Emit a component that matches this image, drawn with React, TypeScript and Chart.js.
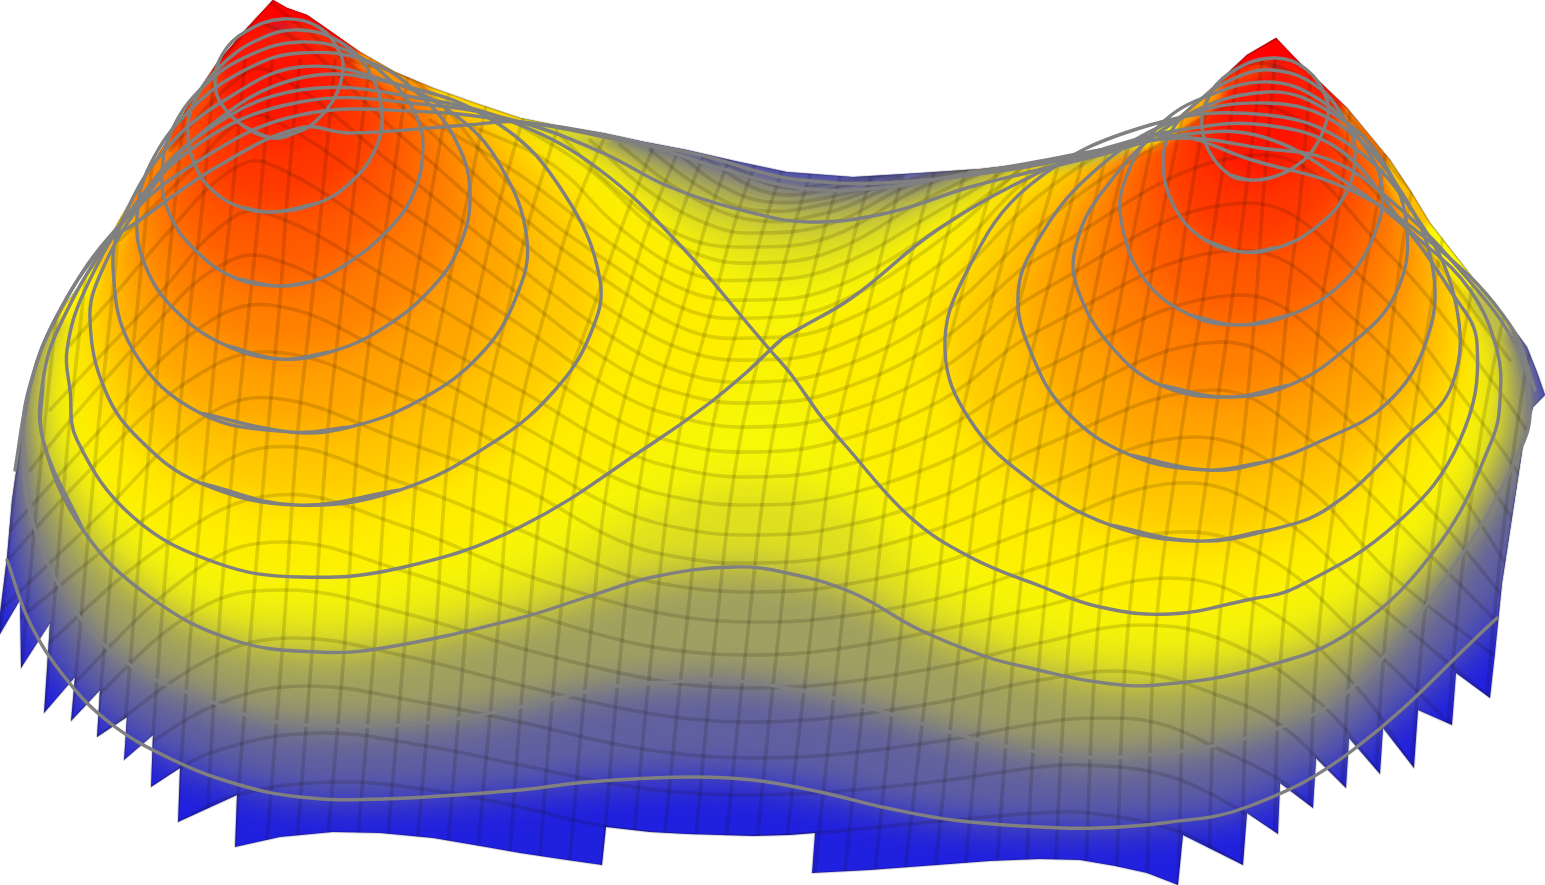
import React, { useEffect, useRef } from "react";
import { Chart, registerables } from "chart.js";

Chart.register(...registerables);

// ---- outline of the surface (x, y pairs)
const outline = [273,0,287,8,307,15,333,33,360,52,395,72,433,88,475,103,520,118,560,126,603,133,645,142,687,150,735,161,787,172,853,177,920,173,980,169,1040,162,1090,153,1130,142,1155,131,1177,118,1197,102,1217,83,1247,55,1276,38,1297,60,1322,84,1347,108,1390,160,1410,190,1430,223,1455,255,1480,287,1505,317,1527,347,1537,372,1545,395,1533,407,1523,445,1502,583,1495,653,1490,698,1456,673,1452,725,1418,710,1414,768,1383,728,1380,774,1349,738,1346,788,1316,758,1313,808,1280,783,1278,834,1247,813,1243,865,1183,835,1178,885,1147,873,1115,866,1080,860,1040,859,990,861,937,865,870,870,812,873,815,833,790,835,753,836,687,834,650,832,606,827,602,865,560,859,520,853,480,846,433,838,380,833,333,832,280,837,235,847,237,795,178,822,180,768,151,787,153,735,124,760,127,717,97,737,100,690,71,721,75,677,44,713,50,623,21,668,20,600,0,634,0,613,7,557,12,500,20,445,28,390,43,343,65,305,93,267,127,207,167,140,190,103,217,63,247,28];

// ---- iso-height contours
const level1Left = [273,138,245,127,222,105,215,83,222,55,245,32,283,19,320,28,340,53,343,70,335,97,315,122,295,133];
const level2Left = [273,212,240,207,212,190,195,165,188,133,195,100,225,62,262,38,300,30,340,42,368,70,382,113,375,150,350,183,318,203];
const level3Left = [277,286,235,278,195,250,170,215,162,177,172,130,205,85,250,55,300,42,350,52,395,85,418,120,423,147,415,190,390,228,345,265,310,282];
const level4Left = [280,359,225,345,175,310,145,265,137,217,150,165,190,110,245,70,300,53,370,62,425,100,458,145,470,193,460,245,430,290,380,330,330,352];
const level5Left = [290,432,200,413,133,350,113,267,125,215,165,150,225,100,300,67,390,82,455,115,500,165,527,240,515,300,480,355,420,400,350,427];
const level6Left = [296,505,200,483,140,440,105,390,90,320,100,275,140,205,205,130,300,78,400,85,500,125,565,195,600,280,590,335,555,390,497,440,400,490];
const level1Right = [1250,180,1230,175,1210,153,1202,127,1207,100,1230,73,1273,58,1307,70,1327,100,1327,120,1313,150,1293,168,1270,178];
const level2Right = [1243,252,1205,240,1175,208,1163,163,1172,130,1200,100,1235,78,1272,70,1315,85,1345,120,1355,153,1345,195,1315,228,1280,247];
const level3Right = [1238,325,1190,315,1145,280,1122,225,1125,180,1160,125,1210,95,1270,82,1320,100,1360,140,1382,187,1372,240,1340,285,1290,315];
const level4Right = [1227,397,1160,385,1110,345,1078,290,1075,250,1100,195,1170,125,1267,92,1335,115,1385,165,1407,230,1395,295,1350,345,1290,385];
const level5Right = [1207,470,1130,455,1065,410,1030,350,1018,295,1035,245,1090,175,1175,120,1267,103,1340,125,1400,190,1433,270,1425,345,1385,405,1323,440,1265,462];
const level6Right = [1195,541,1110,525,1030,480,970,420,945,350,965,275,1030,185,1150,125,1267,115,1350,145,1415,215,1455,300,1452,385,1403,440,1330,507,1270,530];
const level7 = [770,350,747,372,707,405,653,443,520,527,400,568,300,577,217,563,133,517,77,440,70,390,67,350,85,290,135,205,200,135,300,90,430,100,520,125,600,170,680,245,753,330,770,350,790,373,820,415,845,445,910,517,970,557,1040,586,1100,607,1170,614,1247,600,1297,587,1397,523,1460,440,1477,343,1450,290,1400,220,1340,150,1265,125,1180,130,1100,150,1040,172,937,230,853,297,797,330,783,338];
const level8 = [43,440,43,380,60,325,110,240,190,150,300,102,430,105,520,122,603,153,670,187,753,213,810,222,887,213,970,187,1030,172,1100,155,1180,135,1263,137,1350,185,1420,240,1470,290,1497,350,1500,400,1492,440,1440,543,1353,630,1263,667,1157,685,1097,682,1030,668,987,657,920,630,853,593,787,573,733,567,653,577,587,597,520,618,383,648,317,652,233,640,150,597,83,530];
const level9 = [23,440,33,523,77,613,133,667,200,697,267,720,350,726,433,722,520,707,603,688,670,682,727,680,787,688,853,703,920,723,987,742,1040,752,1123,757,1263,733,1353,687,1463,553,1520,450,1530,410,1518,350,1460,270,1390,200,1330,160,1260,148,1180,138,1100,150,1030,163,960,175,880,188,800,188,720,168,640,143,560,127,520,122,430,112,300,115,200,160,120,225,60,310,30,385];
const level10Front = [7,560,30,623,67,680,110,723,167,757,233,783,300,797,383,799,520,790,587,782,687,777,753,780,820,792,887,808,953,820,1040,827,1097,828,1163,823,1247,807,1353,750,1497,618];
const level10Back = [15,470,28,395,50,330,100,250,140,220,220,165,300,128,350,133,467,125,520,122,620,140,700,155,760,172,800,180,880,183,1000,171,1100,152,1170,135,1252,160,1350,190,1440,250,1510,325,1535,390];
const level10RightClosure = [1540,540,1560,450];

// ---- invisible in-between height, only used for colour: the flat yellow round the saddle
const yellowPlateau = [300,615,180,590,100,510,55,400,85,290,135,205,200,135,300,92,430,102,520,125,610,178,680,232,760,268,830,272,900,245,1000,192,1100,152,1180,132,1265,128,1400,228,1470,310,1490,380,1470,480,1350,600,1160,650,950,600,850,510,740,482,650,510,520,575,420,605];

// ---- the thin visible strip along the upper rim, from peak to valley
const rimPatches = [
  [273,-5,210,55,220,75,280,15],[210,55,160,135,172,150,220,75],[160,135,120,200,135,215,172,150],[120,200,85,262,100,272,135,215],[85,262,55,310,70,322,100,272],
  [280,-5,365,45,355,62,285,20],[365,45,437,80,430,98,355,62],[437,80,525,110,520,128,430,98],[525,110,610,125,605,140,520,128],
  [1040,155,1130,133,1135,150,1045,170],[1130,133,1172,110,1183,127,1135,150],[1172,110,1212,75,1225,90,1183,127],[1212,75,1245,47,1276,30,1275,60,1225,90],
  [1276,30,1350,100,1338,117,1275,60],[1350,100,1395,155,1382,170,1338,117],[1395,155,1437,218,1422,232,1382,170],[1437,218,1487,282,1472,295,1422,232],[1487,282,1515,322,1500,335,1472,295],
];
const rimPatchColors = [
  "rgb(255,20,0)","rgb(255,70,0)","rgb(255,130,0)","rgb(255,190,0)","rgb(255,240,0)",
  "rgb(255,40,0)","rgb(255,150,0)","rgb(255,215,0)","rgb(215,215,40)",
  "rgb(190,190,70)","rgb(245,245,10)","rgb(255,170,0)","rgb(255,60,0)",
  "rgb(255,30,0)","rgb(255,120,0)","rgb(255,190,0)","rgb(255,250,0)","rgb(190,190,70)",
];

// ---- the red tips above the innermost contour
const capLeft = [273,-6,312,8,350,48,320,30,283,22,245,34,222,58,238,26];
const capRight = [1276,32,1302,58,1332,104,1307,72,1273,60,1232,74,1206,100,1245,52];

// ---- colours of the height bands, outer to inner
const baseBandColor = "rgb(32,32,223)";
const band10Color = "rgb(96,96,160)";
const band9Color = "rgb(160,160,96)";
const band8Color = "rgb(223,223,32)";
const plateauColor = "rgb(247,247,8)";
const band7Color = "rgb(255,237,0)";
const band6Color = "rgb(255,200,0)";
const band5Color = "rgb(255,164,0)";
const band4Color = "rgb(255,127,0)";
const band3Color = "rgb(255,91,0)";
const band2Color = "rgb(255,55,0)";
const band1Color = "rgb(255,18,0)";
const capColor = "rgb(255,0,0)";

// ---- mesh: lines running left to right, front to back
const meshRows = [
  [178,822,237,795,333,782,430,790,520,807,603,826,680,835,753,836,815,833,930,822,1040,813,1090,813,1180,832,1243,865],
  [151,787,213,752,317,733,420,745,520,765,620,785,690,793,753,795,830,792,940,781,1040,767,1083,765,1157,773,1213,795,1278,834],
  [124,760,220,703,307,686,420,702,520,722,620,745,690,755,753,758,830,755,940,741,1040,723,1097,718,1157,723,1217,748,1280,780,1313,808],
  [97,737,213,657,293,638,400,655,520,685,620,708,690,719,753,722,830,718,940,702,1040,680,1133,672,1223,697,1283,727,1346,788],
  [71,721,197,610,287,590,400,612,520,648,620,673,690,685,753,688,830,684,940,667,1040,643,1140,625,1230,643,1320,703,1380,774],
  [44,713,200,567,287,542,400,570,520,610,620,640,690,652,753,655,830,650,940,630,1040,607,1170,578,1263,607,1353,683,1414,768],
  [21,668,167,543,277,495,400,525,520,573,620,604,690,618,753,622,830,618,940,598,1040,567,1177,532,1267,557,1360,637,1452,725],
  [0,634,167,503,270,447,400,482,520,530,620,573,690,588,753,592,830,587,940,563,1040,527,1178,483,1273,513,1370,597,1490,698],
  [-10,620,100,515,200,420,273,398,400,440,520,487,620,541,690,559,753,563,830,557,940,528,1040,487,1193,437,1297,480,1397,580,1500,660],
  [-10,580,90,470,190,380,273,352,400,395,520,455,620,510,690,530,753,535,830,529,940,497,1040,447,1213,390,1310,440,1420,545,1510,635],
  [10,530,100,430,190,335,270,305,400,360,520,425,620,480,690,500,753,505,830,498,940,463,1040,410,1218,342,1320,395,1435,515,1510,605],
  [30,470,73,417,153,327,213,270,267,257,400,325,520,390,620,449,690,471,753,477,830,469,940,431,1040,370,1237,295,1340,355,1450,480,1510,570],
  [50,410,90,367,160,293,220,227,263,212,400,285,520,358,620,421,690,446,753,452,830,443,940,401,1040,330,1240,250,1355,320,1465,450,1520,530],
  [70,345,110,300,170,230,227,173,267,163,400,245,520,325,620,394,690,420,753,427,830,417,940,370,1040,292,1247,203,1370,285,1480,420,1530,490],
  [120,240,190,170,235,125,267,117,400,205,520,295,620,368,690,396,753,403,830,393,940,341,1040,257,1262,155,1385,250,1495,385,1540,450],
  [170,150,230,85,267,70,400,170,520,268,620,342,690,375,753,382,830,371,940,315,1040,225,1150,150,1265,105,1400,220,1510,360],
  [215,65,267,25,400,135,520,240,620,316,690,352,753,360,830,349,940,289,1040,195,1150,125,1272,65,1415,195,1525,340],
  [267,0,400,105,520,215,620,290,690,331,753,338,830,327,940,264,1040,170,1276,38],
  [350,60,420,85,520,195,620,270,690,311,753,318,830,306,940,240,1040,150],
  [430,120,520,175,620,250,690,292,753,300,830,289,940,228,1040,155],
  [470,125,553,165,620,228,690,273,753,280,830,269,940,210,1030,155],
  [520,125,590,170,650,225,700,255,753,263,830,252,930,197,1020,155],
  [560,135,620,193,687,238,753,247,830,237,920,188,1000,158],
  [590,140,650,192,710,225,753,233,830,224,910,185,980,165],
  [620,145,680,190,753,220,830,212,900,183,960,167],
  [650,150,700,187,753,210,830,203,900,178],
  [680,155,720,185,770,202,840,195,900,175],
  [700,155,770,193,840,187,890,175],
  [720,160,780,187,840,182,880,175],
];

// ---- mesh: lines running front to back, x read at these heights
const columnHeights = [890,640,440,300,200,60];
const meshColumns = [
  [-23,0,20,40,60,90],[1,24,43,58,68,90],[28,51,68,83,93,115],[56,79,97,112,122,140],[83,105,123,138,148,165],
  [112,132,150,165,175,190],[142,160,177,191,203,215],[172,190,207,221,232,245],[203,218,235,250,260,272],[231,250,267,280,287,300],
  [263,283,297,312,322,335],[293,313,327,342,353,370],[323,345,358,375,390,410],[353,375,390,412,430,455],[383,405,420,445,467,495],
  [413,435,450,477,500,540],[444,465,480,510,535,580],[474,497,515,548,578,640],[507,527,552,596,632,690],[537,558,583,625,658,720],
  [567,590,615,655,686,745],[600,622,647,685,714,770],[629,653,678,714,742,795],[659,685,710,745,772,825],[691,715,740,775,802,850],
  [721,747,772,806,833,880],[752,778,803,838,864,910],[781,810,835,870,896,940],[813,840,865,900,926,970],[843,870,895,930,957,1000],
  [873,900,925,960,988,1035],[903,932,957,992,1020,1060],[933,960,985,1020,1048,1090],[963,988,1013,1045,1072,1110],[995,1015,1040,1070,1095,1130],
  [1025,1041,1066,1093,1115,1150],[1054,1069,1094,1120,1140,1170],[1085,1097,1122,1147,1165,1195],[1116,1127,1152,1175,1190,1215],[1147,1155,1180,1203,1218,1240],
  [1178,1187,1212,1232,1245,1262],[1208,1218,1243,1256,1263,1275],[1241,1250,1275,1288,1300,1312],[1273,1282,1307,1322,1340,1355],[1306,1318,1343,1360,1378,1400],
  [1337,1352,1377,1395,1410,1440],[1370,1385,1410,1432,1450,1480],[1403,1422,1447,1470,1490,1520],[1438,1455,1480,1507,1530,1560],[1473,1492,1515,1540,1565,1600],
];

const pts = (flat: number[]) => {
  const out: { x: number; y: number }[] = [];
  for (let i = 0; i < flat.length; i += 2) out.push({ x: flat[i], y: flat[i + 1] });
  return out;
};
// Repeats a point on either side of the seam, so the spline has no kink where a loop closes.
const loop = (flat: number[]) => {
  const n = flat.length;
  return pts([flat[n - 2], flat[n - 1], ...flat, flat[0], flat[1], flat[2], flat[3]]);
};
const closedSharp = (flat: number[]) => pts([...flat, flat[0], flat[1]]);
const reversedPairs = (flat: number[]) => {
  const out: number[] = [];
  for (let i = flat.length - 2; i >= 0; i -= 2) out.push(flat[i], flat[i + 1]);
  return out;
};

const surfacePlugin = {
  id: "surface",
  pathOf(chart: any, index: number, ctx: CanvasRenderingContext2D) {
    const line = chart.getDatasetMeta(index).dataset;
    line.updateControlPoints(chart.chartArea, "x");
    ctx.beginPath();
    line.path(ctx);
    ctx.closePath();
  },
  beforeDatasetsDraw(chart: any) {
    const ctx: CanvasRenderingContext2D = chart.ctx;
    const outlineIndex = chart.data.datasets.findIndex((d: any) => d.role === "outline");
    ctx.save();
    this.pathOf(chart, outlineIndex, ctx);
    ctx.fillStyle = baseBandColor;
    ctx.fill();
    ctx.clip();
    chart.data.datasets.forEach((d: any, i: number) => {
      if (d.role !== "band") return;
      ctx.filter = `blur(${d.blur}px)`;
      ctx.fillStyle = d.bandColor;
      this.pathOf(chart, i, ctx);
      ctx.fill();
    });
    ctx.filter = "none";
    ctx.restore();
  },
  beforeDatasetDraw(chart: any, args: any) {
    const d = chart.data.datasets[args.index];
    if (d.role !== "mesh") return;
    const ctx: CanvasRenderingContext2D = chart.ctx;
    const outlineIndex = chart.data.datasets.findIndex((e: any) => e.role === "outline");
    ctx.save();
    this.pathOf(chart, outlineIndex, ctx);
    ctx.clip();
  },
  afterDatasetDraw(chart: any, args: any) {
    const d = chart.data.datasets[args.index];
    if (d.role === "mesh") chart.ctx.restore();
  },
};

export default function App() {
  const ref = useRef<HTMLCanvasElement>(null);
  useEffect(() => {
    document.body.style.margin = "0";
    document.body.style.background = "#ffffff";
    const band = (data: { x: number; y: number }[], color: string, blur = 19) => ({
      role: "band",
      bandColor: color,
      blur,
      data,
      showLine: false,
      borderWidth: 0,
      tension: 0.4,
      order: 5,
    });
    const contour = (data: { x: number; y: number }[]) => ({
      role: "contour",
      data,
      borderColor: "#808080",
      borderWidth: 3.4,
      tension: 0.4,
      order: 0,
    });
    const mesh = (data: { x: number; y: number }[]) => ({
      role: "mesh",
      data,
      borderColor: "rgba(20,15,0,0.14)",
      borderWidth: 3.6,
      tension: 0.4,
      order: 1,
    });
    const columnPoints = (xs: number[]) => xs.map((x, i) => ({ x, y: columnHeights[i] }));
    const level10Fill = [...level10Front, ...level10RightClosure, ...reversedPairs(level10Back)];
    const closedContours = [
      level1Left, level2Left, level3Left, level4Left, level5Left, level6Left,
      level1Right, level2Right, level3Right, level4Right, level5Right, level6Right,
      level7, level8, level9,
    ];
    const datasets: any[] = [
      {
        role: "outline",
        data: closedSharp(outline),
        borderColor: "rgba(0,0,0,0.16)",
        borderWidth: 2,
        tension: 0,
        order: 2,
      },
      band(loop(level10Fill), band10Color),
      band(loop(level9), band9Color),
      band(loop(level8), band8Color),
      band(loop(yellowPlateau), plateauColor),
      band(loop(level7), band7Color),
      band(loop(level6Left), band6Color),
      band(loop(level6Right), band6Color),
      band(loop(level5Left), band5Color),
      band(loop(level5Right), band5Color),
      band(loop(level4Left), band4Color),
      band(loop(level4Right), band4Color),
      band(loop(level3Left), band3Color),
      band(loop(level3Right), band3Color),
      band(loop(level2Left), band2Color),
      band(loop(level2Right), band2Color),
      band(loop(level1Left), band1Color),
      band(loop(level1Right), band1Color),
      ...rimPatches.map((p, i) => band(closedSharp(p), rimPatchColors[i], 4)),
      band(loop(capLeft), capColor, 3),
      band(loop(capRight), capColor, 3),
      ...meshRows.map((r) => mesh(pts(r))),
      ...meshColumns.map((c) => mesh(columnPoints(c))),
      ...closedContours.map((c) => contour(loop(c))),
      contour(pts(level10Front)),
      contour(pts(level10Back)),
    ];
    const chart = new Chart(ref.current as HTMLCanvasElement, {
      type: "line",
      data: { datasets },
      plugins: [surfacePlugin as any],
      options: {
        animation: false,
        responsive: false,
        events: [],
        layout: { padding: 0 },
        elements: {
          point: { radius: 0, hoverRadius: 0 },
          line: { capBezierPoints: false, borderCapStyle: "round", borderJoinStyle: "round", fill: false },
        },
        plugins: { legend: { display: false }, title: { display: false }, tooltip: { enabled: false } },
        scales: {
          x: { type: "linear", display: false, min: 0, max: 1545 },
          y: { type: "linear", display: false, min: 0, max: 885, reverse: true },
        },
      } as any,
    });
    return () => chart.destroy();
  }, []);
  return <canvas ref={ref} width={1545} height={885} style={{ display: "block", width: 1545, height: 885 }} />;
}
